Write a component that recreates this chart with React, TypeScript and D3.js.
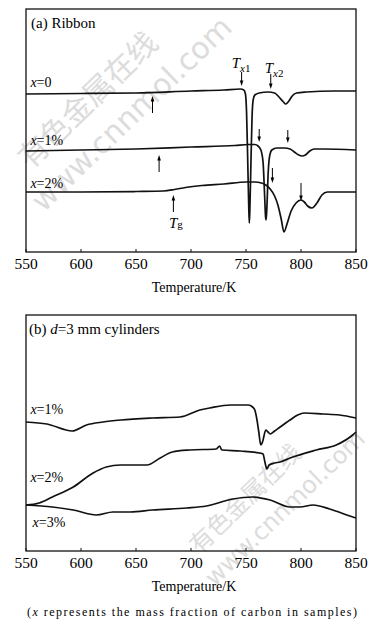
import React from "react";
import * as d3 from "d3";

type Pt = [number, number];

// temperature ticks (K)
const tempTicks = [550, 600, 650, 700, 750, 800, 850];

// (a) ribbon DSC traces, [T, heat flow a.u.]
const ribbonX0: Pt[] = [
  [550, 158], [600, 158.5], [650, 159], [700, 161], [730, 162], [745, 163], [748, 162],
  [749.5, 158], [750.5, 140], [751.5, 95], [752.5, 45], [753, 29], [753.5, 42], [754.5, 90],
  [755.5, 135], [756.5, 152], [758, 157], [762, 159], [770, 160], [776, 159], [780, 155],
  [784, 150], [786, 148], [789, 151], [792, 156], [796, 159], [805, 160], [830, 161], [850, 161],
];
const ribbonX1: Pt[] = [
  [550, 101], [600, 102], [650, 103], [700, 105], [740, 106.5], [752, 107.5], [758, 107.5],
  [761, 106], [763.5, 102], [765.5, 90], [766.8, 60], [767.8, 35], [768.3, 32], [769, 45],
  [770.2, 80], [771.5, 96], [773.5, 102], [778, 104], [785, 104], [790, 103], [794, 100],
  [798, 97], [801, 96], [804, 97], [808, 101], [812, 103], [820, 103], [850, 102],
];
const ribbonX2: Pt[] = [
  [550, 60], [600, 60], [650, 60.5], [675, 61], [685, 62.5], [695, 64.5], [710, 66.5],
  [730, 68], [750, 70], [758, 70], [764, 69], [768, 67], [772, 63], [776, 56], [779, 47],
  [782, 33], [784.5, 20], [787, 27], [791, 41], [795.5, 49], [800, 52], [803, 50], [806, 46],
  [810, 44], [814.5, 49], [819, 57], [824, 60], [835, 60], [850, 60],
];

// (b) 3 mm cylinders
const cylX1: Pt[] = [
  [550, 129], [569, 127], [592, 120], [605, 126], [620, 129], [636, 131], [665, 133],
  [690, 134], [708, 141], [717, 143], [736, 146], [752, 146], [756, 144], [758, 141],
  [760, 131], [761.5, 120], [763.5, 106], [765, 109], [768, 121], [770, 119], [772, 117],
  [776, 120], [781, 124], [790, 131], [797, 136], [803, 138], [820, 137], [835, 136], [850, 133],
];
const cylX2: Pt[] = [
  [550, 46], [562, 48], [574, 54], [593, 64], [611, 78], [623, 84], [636, 86], [660, 86],
  [672, 93], [683, 99], [699, 101], [723, 102], [726, 105], [728, 101], [745, 100], [762, 98],
  [765.5, 97], [767, 90], [769, 82], [771, 86], [776, 88], [781, 89], [790, 93], [814, 101],
  [832, 106], [847, 116], [850, 119],
];
const cylX3: Pt[] = [
  [550, 46], [574, 44], [593, 41], [614, 36], [629, 39], [645, 39], [665, 41], [696, 43],
  [714, 45], [738, 52], [756, 54], [772, 51], [790, 44], [799, 44], [811, 46], [826, 42],
  [847, 34], [850, 33],
];

// arrows in (a): T, tail value, head value
const ribbonArrows = [
  { t: 665, from: 139, to: 156 },
  { t: 746, from: 180, to: 166 },
  { t: 772.5, from: 178, to: 163 },
  { t: 671, from: 80, to: 97 },
  { t: 762, from: 123, to: 110 },
  { t: 788, from: 122, to: 109 },
  { t: 684, from: 40, to: 57 },
  { t: 774, from: 84, to: 69 },
  { t: 800, from: 69, to: 51 },
];

const ribbonLabels = [
  { t: 554, v: 165, pct: "0" },
  { t: 554, v: 107, pct: "1%" },
  { t: 554, v: 64, pct: "2%" },
];
const cylLabels = [
  { t: 554, v: 137, pct: "1%" },
  { t: 554, v: 69, pct: "2%" },
  { t: 556, v: 24, pct: "3%" },
];

const L = 26, R = 356;
const xA = d3.scaleLinear().domain([550, 850]).range([L, R]);
const yA = d3.scaleLinear().domain([0, 243]).range([252, 9]);
const xB = d3.scaleLinear().domain([550, 850]).range([L, R]);
const yB = d3.scaleLinear().domain([0, 236]).range([551, 315]);

const serif = "'Liberation Serif', 'Times New Roman', serif";

function Arrow({ x, y0, y1 }: { x: number; y0: number; y1: number }) {
  const dir = y1 > y0 ? 1 : -1;
  return (
    <g>
      <line x1={x} x2={x} y1={y0} y2={y1 - dir * 4} stroke="#000" strokeWidth={1} />
      <path d={`M${x - 1.8},${y1 - dir * 5.5}L${x},${y1}L${x + 1.8},${y1 - dir * 5.5}Z`} fill="#000" />
    </g>
  );
}

function Panel({ x, y, top, bottom, series, xlabelY, tickY }: any) {
  const line = d3.line<Pt>().x((d) => x(d[0])).y((d) => y(d[1])).curve(d3.curveMonotoneX);
  return (
    <g>
      {series.map((s: Pt[], i: number) => (
        <path key={i} d={line(s) || ""} fill="none" stroke="#111" strokeWidth={1.7} strokeLinejoin="round" />
      ))}
      <rect x={L} y={top} width={R - L} height={bottom - top} fill="none" stroke="#111" strokeWidth={1.3} />
      {tempTicks.map((t) => (
        <g key={t}>
          <line x1={x(t)} x2={x(t)} y1={bottom} y2={bottom - 3} stroke="#111" strokeWidth={1} />
          <text x={x(t)} y={tickY} textAnchor="middle" fontSize={15.5} fontFamily={serif}>{t}</text>
        </g>
      ))}
      <text x={(L + R) / 2 + 3} y={xlabelY} textAnchor="middle" fontSize={14} fontFamily={serif}>Temperature/K</text>
    </g>
  );
}

function XLabel({ px, py, pct }: { px: number; py: number; pct: string }) {
  return (
    <text x={px} y={py} fontSize={14} fontFamily={serif}>
      <tspan fontStyle="italic">x</tspan>={pct}
    </text>
  );
}

function Sub({ px, py, main, sub, subItalic }: { px: number; py: number; main: string; sub: string; subItalic?: string }) {
  return (
    <text x={px} y={py} fontSize={15} fontFamily={serif} fontStyle="italic">
      {main}
      <tspan fontSize={11} dy={4}>{subItalic}</tspan>
      <tspan fontSize={11} fontStyle="normal">{sub}</tspan>
    </text>
  );
}

function Watermark({ cx, cy, size }: { cx: number; cy: number; size: number }) {
  return (
    <g transform={`translate(${cx},${cy}) rotate(-44)`} fill="#dcdcdc" fontFamily="'Noto Sans CJK SC', sans-serif">
      <text x={-12} y={-12} fontSize={size} textAnchor="middle">有色金属在线</text>
      <text x={10} y={size - 2} fontSize={size} textAnchor="middle" fontFamily="'DejaVu Sans', sans-serif">www.cnnmol.com</text>
    </g>
  );
}

export default function App() {
  return (
    <svg width={383} height={625} style={{ position: "absolute", left: 0, top: 0, background: "#fff" }}>
      <rect width={383} height={625} fill="#fff" />
      <Watermark cx={112} cy={108} size={30} />
      <Watermark cx={268} cy={505} size={24} />

      <Panel x={xA} y={yA} top={9} bottom={252} series={[ribbonX0, ribbonX1, ribbonX2]} tickY={269} xlabelY={292} />
      <text x={31} y={28} fontSize={15} fontFamily={serif}>(a) Ribbon</text>
      {ribbonLabels.map((l) => (
        <XLabel key={l.pct} px={xA(l.t)} py={yA(l.v)} pct={l.pct} />
      ))}
      {ribbonArrows.map((a, i) => (
        <Arrow key={i} x={xA(a.t)} y0={yA(a.from)} y1={yA(a.to)} />
      ))}
      <Sub px={xA(737)} py={yA(184)} main="T" subItalic="x" sub="1" />
      <Sub px={xA(767)} py={yA(179)} main="T" subItalic="x" sub="2" />
      <Sub px={xA(680)} py={yA(24)} main="T" subItalic="" sub="g" />

      <Panel x={xB} y={yB} top={315} bottom={551} series={[cylX1, cylX2, cylX3]} tickY={568} xlabelY={591} />
      <text x={29} y={334} fontSize={15} fontFamily={serif}>
        (b) <tspan fontStyle="italic">d</tspan>=3 mm cylinders
      </text>
      {cylLabels.map((l) => (
        <XLabel key={l.pct} px={xB(l.t)} py={yB(l.v)} pct={l.pct} />
      ))}

      <text x={27} y={616} fontSize={12} fontFamily={serif} textLength={330} lengthAdjust="spacing">
        (<tspan fontStyle="italic">x</tspan> represents the mass fraction of carbon in samples)
      </text>
    </svg>
  );
}
